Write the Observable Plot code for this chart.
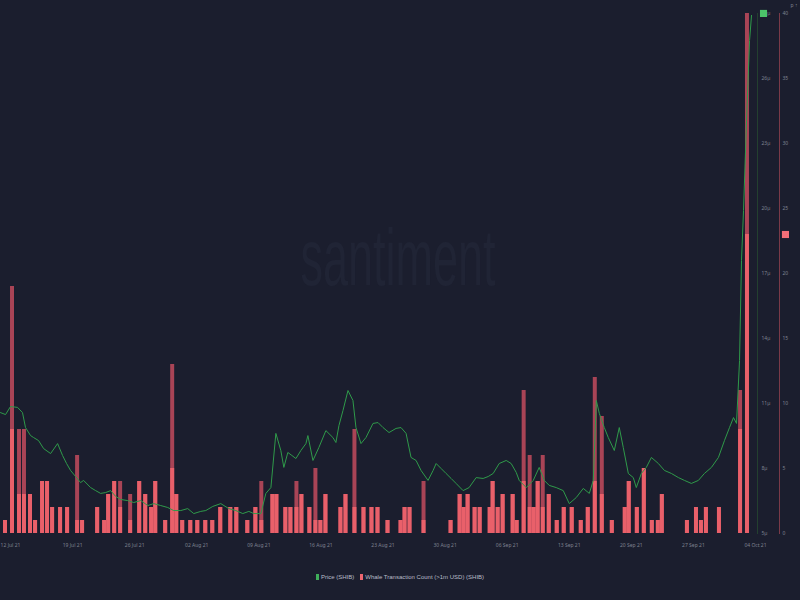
<!DOCTYPE html>
<html>
<head>
<meta charset="utf-8">
<script src="https://cdn.jsdelivr.net/npm/d3@7"></script>
<script src="https://cdn.jsdelivr.net/npm/@observablehq/plot@0.6"></script>
<style>
  html, body { margin: 0; padding: 0; background: #1b1e2e; }
  #wrap { position: relative; width: 800px; height: 560px; }
  #wrap svg { position: absolute; left: 0; top: 0; }
  #legend { width: 800px; height: 40px; display: flex; justify-content: center; align-items: center;
            padding-bottom: 6px; box-sizing: border-box; font: 6px "Liberation Sans", Arial, sans-serif; color: #b9bcc8; }
  #legend .sw { display: inline-block; width: 3px; height: 6px; margin-right: 2px; }
  #legend .item { display: inline-flex; align-items: center; margin: 0 3px; }
</style>
</head>
<body>
<div id="wrap"></div>
<div id="legend"></div>
<script>
// ---- data (days since 12 Jul 2021 UTC) ----
const seriesNames = ["Price (SHIB)", "Whale Transaction Count (>1m USD) (SHIB)"];
const seriesColors = ["#3fae5a", "#ee6670"];
const tickDates = ["2021-07-12","2021-07-19","2021-07-26","2021-08-02","2021-08-09","2021-08-16","2021-08-23",
                   "2021-08-30","2021-09-06","2021-09-13","2021-09-20","2021-09-27","2021-10-04"];
const countTicks = [0, 5, 10, 15, 20, 25, 30, 35, 40];
const priceTicks = [5, 8, 11, 14, 17, 20, 23, 26, 29]; // micro USD

const priceDay = [
  -1.13,-0.56,0,0.79,1.35,1.69,2.26,2.60,3.16,3.73,
  4.52,5.31,5.87,6.32,6.77,7.34,7.90,8.24,9.03,9.60,
  10.16,10.73,11.29,11.86,12.42,13.21,13.89,14.68,15.48,16.15,
  16.94,17.73,18.40,19.20,19.98,20.66,21.45,22.02,22.81,23.71,
  24.61,25.40,26.19,26.87,27.44,28.23,28.79,29.36,29.92,30.48,
  30.82,31.27,31.73,32.18,32.74,33.31,33.53,34.10,34.77,35.56,
  36.35,36.69,37.03,37.49,38.05,38.61,38.95,39.52,40.08,40.87,
  41.44,42.00,42.68,43.47,44.03,44.60,45.16,45.73,46.29,47.08,
  47.65,47.99,48.55,49.11,49.68,50.24,51.03,51.71,52.50,53.29,
  53.86,54.42,55.10,55.89,56.45,57.02,57.36,58.15,58.94,59.61,
  60.18,60.74,61.53,62.32,63.00,63.79,64.58,65.26,65.71,66.05,
  66.39,66.95,67.40,68.08,68.64,69.09,69.66,70.22,70.56,71.13,
  71.69,72.26,73.05,73.73,74.52,75.31,75.99,76.77,77.56,78.24,
  79.03,79.82,80.50,81.07,81.52,81.86,82.20,82.42,82.65,82.99,
  83.33,83.55
];
const priceMicro = [
  10.58,10.49,10.86,10.82,10.58,9.89,9.52,9.43,9.29,8.92,
  8.69,9.15,8.60,8.23,7.91,7.63,7.35,7.45,7.12,6.98,
  6.85,6.89,6.98,6.71,6.57,6.52,6.43,6.52,6.29,6.38,
  6.29,6.20,6.06,6.06,6.15,5.92,6.02,6.06,6.25,6.38,
  6.15,6.06,5.92,6.02,5.92,5.92,6.85,7.12,9.62,8.83,
  8.05,8.74,8.60,8.46,8.83,9.15,9.52,8.37,8.97,9.75,
  9.43,9.20,9.98,10.68,11.60,11.14,9.89,9.15,9.43,10.08,
  10.12,9.89,9.66,9.85,9.89,9.62,8.51,8.37,7.91,7.45,
  7.91,8.23,8.00,7.77,7.54,7.31,6.98,7.12,7.58,7.54,
  7.63,7.77,8.23,8.37,8.23,7.82,7.45,7.12,7.45,8.05,
  7.45,7.22,7.12,6.98,6.38,6.66,7.08,6.85,7.45,11.14,
  10.54,9.89,9.43,8.83,9.89,8.97,7.77,7.58,7.12,7.77,
  8.05,8.51,8.23,7.91,7.77,7.58,7.45,7.31,7.45,7.77,
  8.05,8.51,9.29,9.89,10.35,10.08,12.98,17.60,19.91,24.06,
  27.75,28.91
];

const barDay = [
  -0.79,0,0.79,1.35,2.03,2.60,3.39,3.95,4.52,5.42,
  6.21,7.34,7.90,9.60,10.39,10.84,11.52,12.19,13.32,14.34,
  15.02,15.69,16.15,17.27,18.06,18.52,19.19,20.10,20.89,21.79,
  22.58,23.48,24.61,25.29,26.53,27.44,28.11,29.36,29.81,30.82,
  31.39,32.07,32.63,33.53,34.21,34.77,35.34,37.03,37.60,38.61,
  39.63,40.53,41.21,42.34,43.81,44.26,44.82,46.40,49.45,50.47,
  50.92,51.37,52.16,52.73,53.86,54.19,54.76,55.32,56.45,56.90,
  57.69,58.37,58.82,59.27,59.84,60.52,61.42,62.21,63.11,64.13,
  64.92,65.71,66.50,67.63,69.09,69.54,70.45,71.24,72.14,72.82,
  73.27,76.10,77.12,77.68,78.24,79.71,82.09,82.87
];
const barPeak = [
  1,19,8,8,3,1,4,4,2,2,
  2,6,1,2,1,3,4,4,3,4,
  3,2,4,1,13,3,1,1,1,1,
  1,2,2,2,1,2,4,3,3,2,
  2,4,3,2,5,1,3,2,3,8,
  2,2,2,1,1,2,2,4,1,3,
  2,3,2,2,2,4,2,3,3,1,
  11,6,2,4,6,3,1,2,2,1,
  2,12,9,1,2,4,2,5,1,1,
  3,1,2,1,2,2,11,40
];
const barBase = [
  1,8,3,3,3,1,4,4,2,2,
  2,1,1,2,1,3,4,2,1,4,
  3,2,4,1,5,3,1,1,1,1,
  1,2,2,2,1,2,1,3,3,2,
  2,2,3,2,1,1,3,2,3,2,
  2,2,2,1,1,2,2,1,1,3,
  2,3,2,2,2,4,2,3,3,1,
  4,2,2,4,2,3,1,2,2,1,
  2,4,3,1,2,4,2,5,1,1,
  3,1,2,1,2,2,8,23
];

// ---- build tables ----
const start = Date.UTC(2021, 6, 12);
const DAY = 864e5;
const toDate = d => new Date(start + d * DAY);
const prices = priceDay.map((d, i) => ({t: toDate(d), p: priceMicro[i]}));
const bars = barDay.map((d, i) => ({t0: toDate(d), t1: toDate(d + 0.45), peak: barPeak[i], base: barBase[i]}));
const ticks = tickDates.map(s => new Date(s + "T00:00:00Z"));
const xDomain = [toDate(-1.129), ticks[ticks.length - 1]];
const lastPrice = prices[prices.length - 1];
const lastBar = bars[bars.length - 1];

const common = {width: 800, height: 560, marginLeft: 0, marginRight: 45, marginTop: 13, marginBottom: 27};
const axisColor = "#7f8290";

const countPlot = Plot.plot({
  ...common,
  style: {background: "transparent", overflow: "visible"},
  x: {type: "utc", domain: xDomain, axis: null},
  y: {domain: [0, 40], axis: null},
  marks: [
    Plot.text(["santiment"], {frameAnchor: "middle", dx: 20, dy: -14, fontSize: 80, fill: "#202435",
      fontFamily: "Liberation Sans Narrow, Liberation Sans, sans-serif"}),
    Plot.rectY(bars, {x1: "t0", x2: "t1", y1: 0, y2: "peak", fill: "#a94456"}),
    Plot.rectY(bars, {x1: "t0", x2: "t1", y1: 0, y2: "base", fill: "#e9606a"}),
    Plot.frame({anchor: "right", stroke: "#7a3a48", dx: 24}),
    Plot.axisY(countTicks, {anchor: "right", tickSize: 0, tickPadding: 27, fontSize: 5, color: axisColor}),
    Plot.axisX(ticks, {anchor: "bottom", tickSize: 0, tickPadding: 10, fontSize: 5, color: axisColor, tickFormat: "%d %b %y"}),
    Plot.dot([lastBar], {x: "t0", y: "base", symbol: "square", r: 4, fill: "#f26f78", dx: 40})
  ]
});

const pricePlot = Plot.plot({
  ...common,
  style: {background: "transparent", overflow: "visible"},
  x: {type: "utc", domain: xDomain, axis: null},
  y: {domain: [5, 29], axis: null},
  marks: [
    Plot.frame({anchor: "right", stroke: "#23402f", dx: 2}),
    Plot.line(prices, {x: "t", y: "p", stroke: "#2f9a4a", strokeWidth: 1}),
    Plot.axisY(priceTicks, {anchor: "right", tickSize: 0, tickPadding: 6, fontSize: 5, color: axisColor, tickFormat: d => d + "µ"}),
    Plot.dot([lastPrice], {x: "t", y: "p", symbol: "square", r: 4, fill: "#4cc46a", dx: 12, dy: -2})
  ]
});

d3.select(countPlot).selectAll("text").filter(function() { return this.textContent === "santiment"; })
  .attr("textLength", 195).attr("lengthAdjust", "spacingAndGlyphs");

const wrap = document.getElementById("wrap");
wrap.appendChild(countPlot);
wrap.appendChild(pricePlot);

const legend = d3.select("#legend");
seriesNames.forEach((name, i) => {
  const item = legend.append("span").attr("class", "item");
  item.append("span").attr("class", "sw").style("background", seriesColors[i]);
  item.append("span").text(name);
});
</script>
</body>
</html>
